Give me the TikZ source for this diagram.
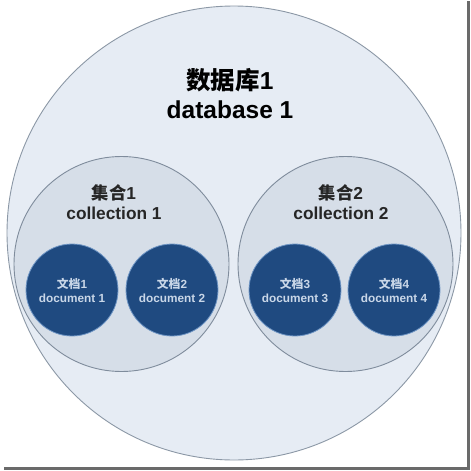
\documentclass[tikz,border=0pt]{standalone}
\usepackage{fontspec}
\setmainfont{Liberation Sans}
\newfontfamily\cjk{Noto Sans CJK SC}
\definecolor{dbfill}{HTML}{E6ECF4}
\definecolor{dbline}{HTML}{8C98A6}
\definecolor{colfill}{HTML}{D6DEE8}
\definecolor{colline}{HTML}{7F8C9C}
\definecolor{docfill}{HTML}{1F4A80}
\definecolor{docline}{HTML}{6E95C4}
\definecolor{doctext}{HTML}{C9D7E8}
\definecolor{frameshadow}{HTML}{6A6A6A}
\tikzset{
  dbcircle/.style={circle, draw=dbline, fill=dbfill, line width=0.9pt, minimum size=454pt, inner sep=0pt},
  colcircle/.style={circle, draw=colline, fill=colfill, line width=0.9pt, minimum size=215pt, inner sep=0pt},
  doccircle/.style={circle, draw=docline, fill=docfill, line width=0.8pt, minimum size=92pt, inner sep=0pt},
  dblabel/.style={align=center, font=\fontsize{24.5}{29}\selectfont\bfseries, text=black},
  collabel/.style={align=center, font=\fontsize{17.3}{20.5}\selectfont\bfseries, text=black!85},
  doclabel/.style={align=center, font=\fontsize{11.8}{14}\selectfont\bfseries, text=doctext},
}
\begin{document}
\begin{tikzpicture}[x=1pt,y=-1pt]
\useasboundingbox (0,0) rectangle (471,471);
\fill[white] (0,0) rectangle (471,471);
% frame shadow
\coordinate (ftr) at (468.5,1);
\coordinate (fbr) at (468.5,468.5);
\coordinate (fbl) at (4,468.5);
\draw[frameshadow, line width=2.5pt] (ftr) -- (fbr) -- (fbl);
% database
\node[dbcircle] (db) at (234,233) {};
\node[dblabel] (dbt) at (230,94) {{\cjk\bfseries 数据库}1\\database 1};
% collections
\node[colcircle] (c1) at (121.5,264) {};
\node[colcircle] (c2) at (345.5,264) {};
\node[collabel] (c1t) at (114,202) {{\cjk\bfseries 集合}1\\collection 1};
\node[collabel] (c2t) at (341,202) {{\cjk\bfseries 集合}2\\collection 2};
% documents
\node[doccircle] (d1) at (72,290) {};
\node[doccircle] (d2) at (172,290) {};
\node[doccircle] (d3) at (295,290) {};
\node[doccircle] (d4) at (394,290) {};
\node[doclabel] at (d1) {{\cjk\bfseries 文档}1\\document 1};
\node[doclabel] at (d2) {{\cjk\bfseries 文档}2\\document 2};
\node[doclabel] at (d3) {{\cjk\bfseries 文档}3\\document 3};
\node[doclabel] at (d4) {{\cjk\bfseries 文档}4\\document 4};
\end{tikzpicture}
\end{document}
